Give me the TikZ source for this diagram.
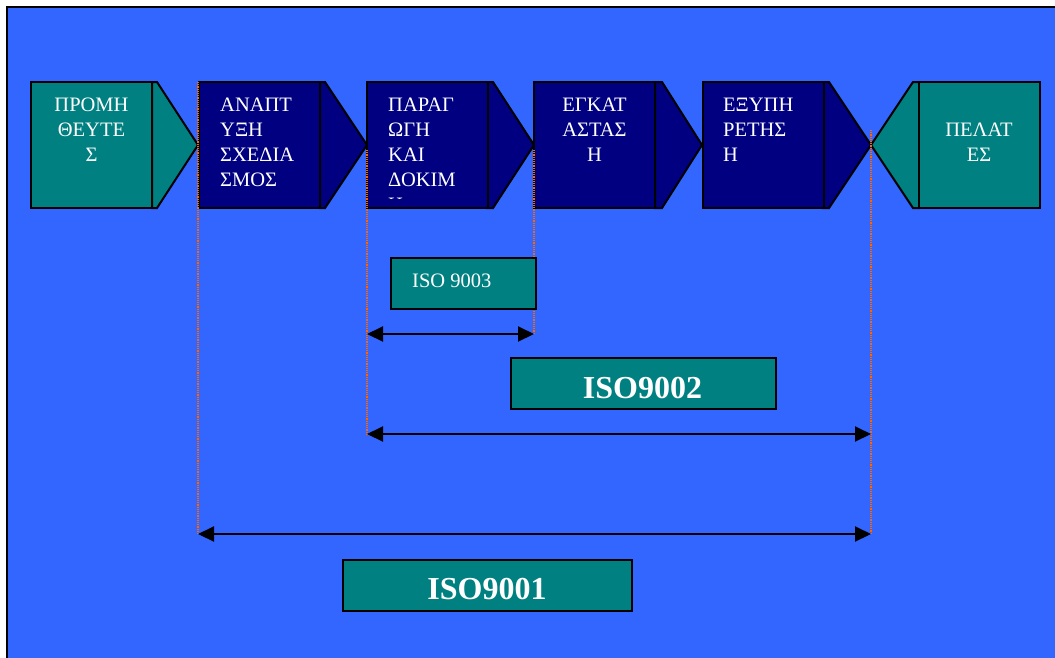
\documentclass[tikz,border=0pt]{standalone}
\usepackage{fontspec}
\setmainfont{Liberation Serif}
\usetikzlibrary{arrows.meta}
\definecolor{bgblue}{HTML}{3366FF}
\definecolor{tealc}{HTML}{008080}
\definecolor{navyc}{HTML}{000080}
\definecolor{guide}{HTML}{FF6600}
\tikzset{
  stepbox/.style={draw=black, line width=2pt, inner sep=0pt, minimum width=121pt, minimum height=126pt},
  chev/.style={draw=black, line width=2pt, line join=miter},
  steptext/.style={text=white, inner sep=0pt, font=\fontsize{20.5}{25}\selectfont},
  isobox/.style={draw=black, line width=2pt, fill=tealc, inner sep=0pt, minimum height=51pt},
  isotext/.style={text=white, inner sep=0pt},
  guideline/.style={guide, densely dotted, line width=1.2pt},
  span/.style={line width=2pt, {Triangle[length=16pt,width=15pt]}-{Triangle[length=16pt,width=15pt]}}
}
\begin{document}
\begin{tikzpicture}[x=1pt,y=-1pt]
\useasboundingbox (0,0) rectangle (1055,657);
\fill[white] (0,0) rectangle (1055,657);
\draw[fill=bgblue, line width=2pt] (7,7) rectangle (1070,670);

% chevrons
\draw[chev, fill=tealc] (152,82) -- (157,82) -- (198,145) -- (157,208) -- (152,208) -- cycle;
\draw[chev, fill=navyc] (320,82) -- (325,82) -- (367,145) -- (325,208) -- (320,208) -- cycle;
\draw[chev, fill=navyc] (487,82) -- (493,82) -- (534,145) -- (493,208) -- (487,208) -- cycle;
\draw[chev, fill=navyc] (655,82) -- (662,82) -- (702,145) -- (662,208) -- (655,208) -- cycle;
\draw[chev, fill=navyc] (823,82) -- (829,82) -- (871,145) -- (829,208) -- (823,208) -- cycle;
\draw[chev, fill=tealc] (919,82) -- (913,82) -- (871,145) -- (913,208) -- (919,208) -- cycle;

% step boxes
\node[stepbox, fill=tealc] (s1) at (91.5,145) {};
\node[stepbox, fill=navyc] (s2) at (259,145) {};
\node[stepbox, fill=navyc] (s3) at (427,145) {};
\node[stepbox, fill=navyc] (s4) at (594.5,145) {};
\node[stepbox, fill=navyc] (s5) at (763,145) {};
\node[stepbox, fill=tealc] (s6) at (979,145) {};

% step texts
\node[steptext, anchor=north, align=center] (t1) at (91.5,98) {ΠΡΟΜΗ\\ΘΕΥΤΕ\\Σ};
\node[steptext, anchor=north west, align=left] (t2) at (220,98) {ΑΝΑΠΤ\\ΥΞΗ\\ΣΧΕΔΙΑ\\ΣΜΟΣ};
\begin{scope}
\clip (367,82) rectangle (487,198.5);
\node[steptext, anchor=north west, align=left] (t3) at (388,98) {ΠΑΡΑΓ\\ΩΓΗ\\ΚΑΙ\\ΔΟΚΙΜ\\Η};
\end{scope}
\node[steptext, anchor=north, align=center] (t4) at (594.5,98) {ΕΓΚΑΤ\\ΑΣΤΑΣ\\Η};
\node[steptext, anchor=north west, align=left] (t5) at (723,98) {ΕΞΥΠΗ\\ΡΕΤΗΣ\\Η};
\node[steptext, anchor=north, align=center] (t6) at (979,123) {ΠΕΛΑΤ\\ΕΣ};

% guide coordinates
\coordinate (g1a) at (198,82);  \coordinate (g1b) at (198,534);
\coordinate (g2a) at (367,150); \coordinate (g2b) at (367,434);
\coordinate (g2c) at (367,334);
\coordinate (g3a) at (534,150); \coordinate (g3b) at (534,334);
\coordinate (g4a) at (871,130); \coordinate (g4b) at (871,534);
\coordinate (g4c) at (871,434);

\draw[guideline] (g1a) -- (g1b);
\draw[guideline] (g2a) -- (g2b);
\draw[guideline] (g3a) -- (g3b);
\draw[guideline] (g4a) -- (g4b);

% span arrows
\draw[span] (g2c) -- (g3b);
\draw[span] (g2b) -- (g4c);
\draw[span] (g1b) -- (g4b);

% ISO boxes
\node[isobox, minimum width=145pt] (b3) at (463.5,283.5) {};
\node[isotext, anchor=north west, font=\fontsize{20.5}{25}\selectfont] (i3) at (412,274) {ISO 9003};
\node[isobox, minimum width=265pt] (b2) at (643.5,383.5) {};
\node[isotext, anchor=north, font=\bfseries\fontsize{32}{36}\selectfont] (i2) at (642.5,377) {ISO9002};
\node[isobox, minimum width=289pt] (b1) at (487.5,585) {};
\node[isotext, anchor=north, font=\bfseries\fontsize{32}{36}\selectfont] (i1) at (487,578) {ISO9001};
\end{tikzpicture}
\end{document}
